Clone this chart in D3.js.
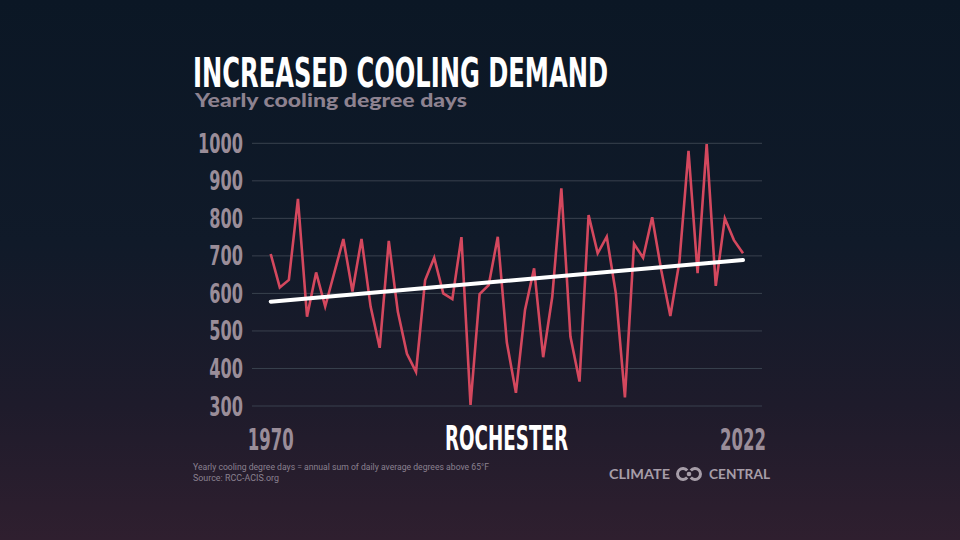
<!DOCTYPE html>
<html>
<head>
<meta charset="utf-8">
<script src="https://cdn.jsdelivr.net/npm/d3@7"></script>
<style>
  html, body { margin: 0; padding: 0; background: #0e1926; }
  svg { display: block; }
</style>
</head>
<body>
<svg id="chart" width="960" height="540"></svg>
<script>
// ---- data ----
const years = [1970,1971,1972,1973,1974,1975,1976,1977,1978,1979,
  1980,1981,1982,1983,1984,1985,1986,1987,1988,1989,
  1990,1991,1992,1993,1994,1995,1996,1997,1998,1999,
  2000,2001,2002,2003,2004,2005,2006,2007,2008,2009,
  2010,2011,2012,2013,2014,2015,2016,2017,2018,2019,
  2020,2021,2022];
const coolingDegreeDays = [705,616,636,852,538,656,565,655,745,605,
  745,565,455,740,551,439,391,635,695,600,
  585,750,303,598,622,751,469,335,556,667,
  430,591,880,485,365,809,707,751,600,323,
  732,695,803,662,540,685,980,654,998,620,
  800,742,707];
const trendYears = [1970, 2022];
const trendValues = [578, 689];
const yTicks = [300,400,500,600,700,800,900,1000];
const xTickLabels = [1970, 2022];
const titleText = "INCREASED COOLING DEMAND";
const subtitleText = "Yearly cooling degree days";
const cityText = "ROCHESTER";
const noteLines = ["Yearly cooling degree days = annual sum of daily average degrees above 65°F", "Source: RCC-ACIS.org"];

// ---- setup ----
const svg = d3.select("#chart");
const W = 960, H = 540;
const condensed = "'Liberation Sans Narrow', 'DejaVu Sans Condensed', 'Roboto', sans-serif";

const defs = svg.append("defs");
const grad = defs.append("linearGradient").attr("id","bg").attr("x1",0).attr("y1",0).attr("x2",0).attr("y2",1);
grad.append("stop").attr("offset","0%").attr("stop-color","#0b1725");
grad.append("stop").attr("offset","45%").attr("stop-color","#101a29");
grad.append("stop").attr("offset","75%").attr("stop-color","#1e1b2b");
grad.append("stop").attr("offset","100%").attr("stop-color","#2f1f2f");
svg.append("rect").attr("width",W).attr("height",H).attr("fill","url(#bg)");

const x = d3.scaleLinear().domain([1970, 2022]).range([270.7, 743]);
const y = d3.scaleLinear().domain([300, 1000]).range([406, 143.3]);

// gridlines
svg.append("g").selectAll("line").data(yTicks).join("line")
  .attr("x1", 252).attr("x2", 762)
  .attr("y1", d => y(d)).attr("y2", d => y(d))
  .attr("stroke", "#39414e").attr("stroke-width", 1);

// y tick labels (condensed, scaled to fit)
const tickG = svg.append("g").selectAll("g").data(yTicks).join("g");
const tickText = tickG.append("text")
  .attr("text-anchor","end")
  .attr("font-family", condensed).attr("font-weight", 700).attr("font-size", 26)
  .attr("fill", "#9a8d99")
  .text(d => d);
let wMax = 1;
tickText.each(function(){ wMax = Math.max(wMax, this.getComputedTextLength()); });
const kTick = 45 / wMax;
tickG.attr("transform", d => `translate(243,${y(d) + 9.5}) scale(${kTick},1)`);

// x labels
const xl = svg.append("g").selectAll("g").data(xTickLabels).join("g");
const xlText = xl.append("text").attr("text-anchor","middle")
  .attr("font-family", condensed).attr("font-weight", 700).attr("font-size", 30)
  .attr("fill", "#9a8d99").text(d => d);
let wx = 1;
xlText.each(function(){ wx = Math.max(wx, this.getComputedTextLength()); });
const kX = 46 / wx;
xl.attr("transform", d => `translate(${x(d)},450) scale(${kX},1)`);

// data line
const line = d3.line().x((d,i) => x(years[i])).y(d => y(d));
svg.append("path").datum(coolingDegreeDays)
  .attr("d", line).attr("fill","none")
  .attr("stroke","#d4485e").attr("stroke-width",2.6).attr("stroke-linejoin","miter");

// trend line
const tline = d3.line().x((d,i) => x(trendYears[i])).y(d => y(d));
svg.append("path").datum(trendValues)
  .attr("d", tline).attr("fill","none")
  .attr("stroke","#ffffff").attr("stroke-width",4).attr("stroke-linecap","round");

// title
svg.append("text").attr("x",193).attr("y",87)
  .attr("font-family", condensed).attr("font-weight",700).attr("font-size",41)
  .attr("fill","#ffffff").attr("textLength",415).attr("lengthAdjust","spacingAndGlyphs")
  .text(titleText);

// subtitle
svg.append("text").attr("x",195).attr("y",107)
  .attr("font-family","Lato, 'Open Sans', sans-serif").attr("font-weight",900).attr("font-size",19.5)
  .attr("fill","#8d8290").attr("textLength",272).attr("lengthAdjust","spacingAndGlyphs")
  .text(subtitleText);

// city label
svg.append("text").attr("x",445).attr("y",450)
  .attr("font-family", condensed).attr("font-weight",700).attr("font-size",33)
  .attr("fill","#ffffff").attr("textLength",123).attr("lengthAdjust","spacingAndGlyphs")
  .text(cityText);

// notes
svg.append("g").selectAll("text").data(noteLines).join("text")
  .attr("x",193).attr("y",(d,i) => 470 + i*11)
  .attr("font-family", "'Liberation Sans Narrow', 'Roboto', sans-serif").attr("font-size",9)
  .attr("fill","#8a8190")
  .attr("textLength",(d,i) => i === 0 ? 296 : 86).attr("lengthAdjust","spacingAndGlyphs")
  .text(d => d);

// logo
const logoColor = "#a69da8";
svg.append("text").attr("x",609).attr("y",479)
  .attr("font-family","Lato, 'Open Sans', sans-serif").attr("font-weight",700).attr("font-size",13)
  .attr("fill",logoColor).attr("textLength",61).attr("lengthAdjust","spacingAndGlyphs")
  .text("CLIMATE");
svg.append("text").attr("x",709).attr("y",479)
  .attr("font-family","Lato, 'Open Sans', sans-serif").attr("font-weight",700).attr("font-size",13)
  .attr("fill",logoColor).attr("textLength",61).attr("lengthAdjust","spacingAndGlyphs")
  .text("CENTRAL");
const logoG = svg.append("g");
const arc = d3.arc().innerRadius(4).outerRadius(7);
// left "C" opening to the right
logoG.append("path")
  .attr("d", arc({startAngle: Math.PI/2 + 0.7, endAngle: Math.PI/2 + 2*Math.PI - 0.7}))
  .attr("transform","translate(683,474)").attr("fill",logoColor);
// right reversed "C" opening to the left
logoG.append("path")
  .attr("d", arc({startAngle: -Math.PI/2 + 0.7, endAngle: -Math.PI/2 + 2*Math.PI - 0.7}))
  .attr("transform","translate(695,474)").attr("fill",logoColor);
logoG.append("circle").attr("cx",689).attr("cy",474).attr("r",2.3).attr("fill",logoColor);
</script>
</body>
</html>
